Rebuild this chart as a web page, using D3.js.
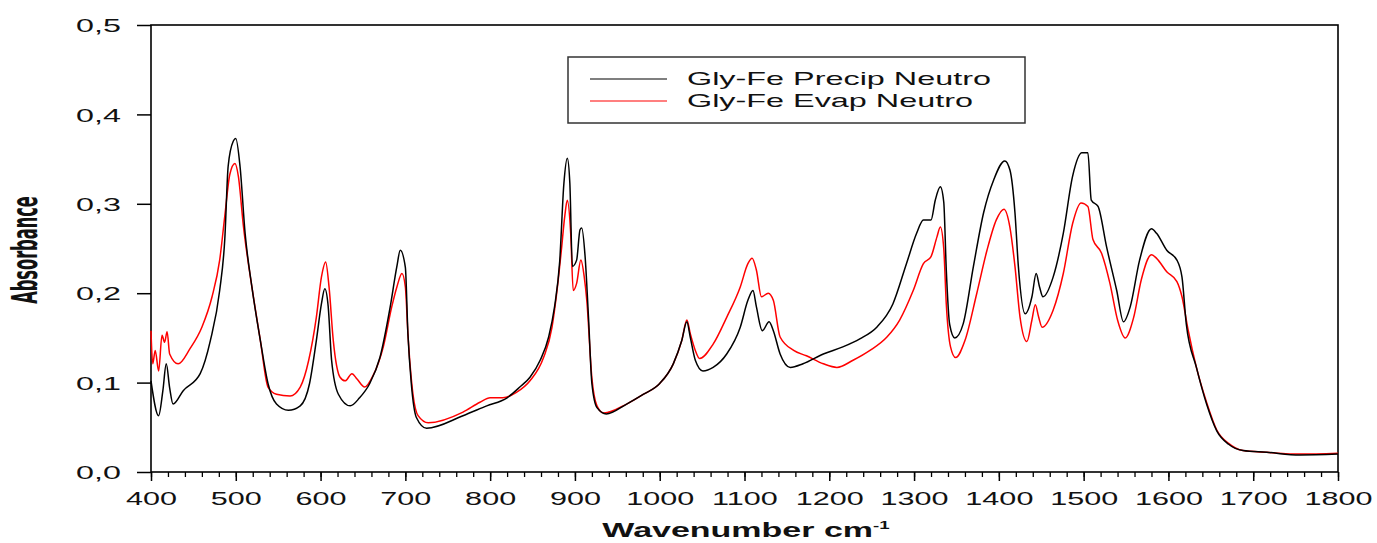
<!DOCTYPE html>
<html>
<head>
<meta charset="utf-8">
<script src="https://cdn.jsdelivr.net/npm/d3@7"></script>
<style>
  body { margin: 0; background: #fff; }
  text { font-family: "Liberation Sans", Arial, sans-serif; fill: #111; }
</style>
</head>
<body>
<svg id="chart" width="1377" height="543"></svg>
<script>
// series
const precipWavenumber = [400,409,414,418,422,426,438,458,470,481,487,491,497,500,505,511,519,529,538,548,562,576,587,595,601,605,609,613,621,635,646,658,670,682,690,694,700,703,707,713,725,768,796,820,835,847,859,869,876,882,887,891,894,897,902,906,908,912,916,920,926,937,961,981,1000,1016,1026,1032,1036,1042,1051,1063,1079,1095,1104,1110,1114,1121,1129,1134,1142,1154,1169,1193,1216,1236,1256,1275,1291,1303,1311,1320,1325,1331,1335,1338,1342,1348,1358,1370,1382,1394,1407,1413,1419,1423,1431,1439,1444,1448,1452,1464,1476,1487,1498,1505,1509,1517,1527,1539,1547,1555,1566,1580,1586,1598,1610,1616,1621,1633,1645,1657,1671,1688,1716,1755,1800];
const precipAbsorbance = [0.102,0.063,0.091,0.121,0.094,0.076,0.091,0.110,0.147,0.203,0.260,0.342,0.370,0.373,0.342,0.267,0.207,0.147,0.099,0.076,0.069,0.074,0.099,0.147,0.188,0.205,0.185,0.125,0.087,0.074,0.083,0.099,0.128,0.184,0.230,0.248,0.229,0.155,0.099,0.061,0.049,0.063,0.074,0.083,0.095,0.106,0.125,0.151,0.185,0.235,0.323,0.351,0.323,0.230,0.237,0.271,0.273,0.241,0.173,0.099,0.072,0.065,0.076,0.087,0.099,0.121,0.147,0.168,0.151,0.125,0.113,0.117,0.132,0.162,0.192,0.203,0.185,0.158,0.168,0.158,0.132,0.117,0.121,0.132,0.140,0.149,0.162,0.188,0.233,0.267,0.282,0.282,0.304,0.319,0.302,0.226,0.165,0.150,0.166,0.230,0.290,0.327,0.348,0.338,0.290,0.230,0.177,0.196,0.222,0.207,0.196,0.218,0.267,0.331,0.357,0.357,0.304,0.297,0.252,0.203,0.168,0.185,0.237,0.272,0.267,0.248,0.237,0.218,0.166,0.117,0.076,0.046,0.031,0.024,0.022,0.019,0.020];

const evapWavenumber = [400,402,405,409,413,416,419,422,432,446,460,472,481,487,493,499,503,509,519,529,538,548,564,576,586,595,601,606,610,615,623,629,637,643,652,662,674,684,690,696,700,703,709,715,727,768,788,800,815,831,847,863,873,878,884,888,891,895,898,902,907,911,914,920,926,934,961,981,1000,1016,1026,1032,1036,1042,1047,1063,1079,1095,1104,1109,1114,1120,1128,1134,1142,1158,1173,1193,1209,1228,1248,1268,1283,1299,1311,1320,1327,1331,1335,1338,1343,1349,1360,1374,1386,1397,1406,1413,1419,1425,1433,1439,1443,1447,1451,1464,1476,1487,1497,1505,1511,1521,1531,1540,1549,1559,1568,1580,1586,1598,1610,1616,1623,1633,1645,1657,1671,1688,1716,1755,1800];
const evapAbsorbance = [0.158,0.121,0.136,0.113,0.153,0.145,0.157,0.132,0.121,0.138,0.162,0.196,0.237,0.286,0.333,0.345,0.331,0.275,0.207,0.147,0.095,0.087,0.085,0.095,0.125,0.173,0.218,0.235,0.207,0.147,0.106,0.102,0.110,0.104,0.095,0.108,0.140,0.185,0.207,0.222,0.207,0.155,0.087,0.063,0.055,0.067,0.078,0.083,0.083,0.089,0.102,0.128,0.162,0.196,0.248,0.286,0.304,0.267,0.203,0.211,0.237,0.218,0.192,0.105,0.074,0.066,0.076,0.087,0.099,0.121,0.147,0.170,0.155,0.136,0.127,0.143,0.173,0.207,0.233,0.239,0.226,0.196,0.200,0.192,0.151,0.136,0.130,0.121,0.117,0.125,0.136,0.151,0.170,0.203,0.233,0.241,0.263,0.274,0.250,0.188,0.140,0.128,0.147,0.200,0.248,0.282,0.294,0.274,0.230,0.173,0.146,0.170,0.187,0.173,0.162,0.181,0.222,0.278,0.301,0.297,0.260,0.245,0.211,0.170,0.150,0.173,0.215,0.243,0.239,0.224,0.213,0.196,0.160,0.117,0.078,0.047,0.032,0.024,0.022,0.020,0.021];

const seriesNames = ["Gly-Fe Precip Neutro", "Gly-Fe Evap Neutro"];
const seriesColors = ["#000000", "#ff0000"];
const xTickValues = [400,500,600,700,800,900,1000,1100,1200,1300,1400,1500,1600,1700,1800];
const yTickValues = [0, 0.1, 0.2, 0.3, 0.4, 0.5];
const yTickLabels = ["0,0", "0,1", "0,2", "0,3", "0,4", "0,5"];

// the picture is stretched sideways, so text gets stretched too
const SX = 1.7;

const svg = d3.select("#chart");
const plotLeft = 151, plotRight = 1338, plotTop = 25, plotBottom = 472;

const x = d3.scaleLinear().domain([400, 1800]).range([plotLeft, plotRight]);
const y = d3.scaleLinear().domain([0, 0.5]).range([plotBottom, plotTop]);

// minor ticks every 20
svg.append("g")
    .attr("transform", `translate(0,${plotBottom})`)
    .call(d3.axisBottom(x).tickValues(d3.range(400, 1801, 20)).tickSize(5).tickFormat(""))
    .call(g => g.select(".domain").remove())
    .selectAll("line").attr("stroke", "#000").attr("stroke-width", 1.3);

// major x ticks
const xAxis = svg.append("g")
    .attr("transform", `translate(0,${plotBottom})`)
    .call(d3.axisBottom(x).tickValues(xTickValues).tickSize(9).tickFormat(d => d));
xAxis.select(".domain").remove();
xAxis.selectAll("line").attr("stroke", "#000").attr("stroke-width", 1.5);
xAxis.selectAll("text")
    .attr("y", 0).attr("dy", null)
    .attr("transform", `translate(0,33) scale(${SX},1)`)
    .style("font-size", "18px")
    .style("font-family", "'Liberation Sans', Arial, sans-serif")
    .attr("fill", "#111");

// y ticks
const yAxis = svg.append("g")
    .attr("transform", `translate(${plotLeft},0)`)
    .call(d3.axisLeft(y).tickValues(yTickValues).tickSize(14).tickFormat((d, i) => yTickLabels[i]));
yAxis.select(".domain").remove();
yAxis.selectAll("line").attr("stroke", "#000").attr("stroke-width", 1.5);
yAxis.selectAll("text")
    .attr("x", 0).attr("dy", "0.35em")
    .attr("transform", `translate(-30,0) scale(${SX},1)`)
    .style("font-size", "19px")
    .style("font-family", "'Liberation Sans', Arial, sans-serif")
    .attr("fill", "#111");

// frame
svg.append("rect")
    .attr("x", plotLeft).attr("y", plotTop)
    .attr("width", plotRight - plotLeft).attr("height", plotBottom - plotTop)
    .attr("fill", "none").attr("stroke", "#000").attr("stroke-width", 1.6);

// lines
const line = d3.line().x(d => x(d[0])).y(d => y(d[1])).curve(d3.curveMonotoneX);
const evapPts = evapWavenumber.map((w, i) => [w, evapAbsorbance[i]]);
const precipPts = precipWavenumber.map((w, i) => [w, precipAbsorbance[i]]);

svg.append("path").datum(evapPts)
    .attr("d", line).attr("fill", "none")
    .attr("stroke", seriesColors[1]).attr("stroke-width", 1.5);
svg.append("path").datum(precipPts)
    .attr("d", line).attr("fill", "none")
    .attr("stroke", seriesColors[0]).attr("stroke-width", 1.5);

// legend
svg.append("rect")
    .attr("x", 568).attr("y", 57).attr("width", 457).attr("height", 66)
    .attr("fill", "#fff").attr("stroke", "#333").attr("stroke-width", 1.5);

const legendRows = [79, 101];
seriesNames.forEach((name, i) => {
    svg.append("line")
        .attr("x1", 590).attr("x2", 667)
        .attr("y1", legendRows[i]).attr("y2", legendRows[i])
        .attr("stroke", seriesColors[i]).attr("stroke-width", 1.2);
    svg.append("text")
        .attr("transform", `translate(687,${legendRows[i] + 6}) scale(1.75,1)`)
        .style("font-size", "18.5px")
        .text(name);
});

// axis titles
const xTitle = svg.append("text")
    .attr("transform", `translate(746,537) scale(${SX},1)`)
    .attr("text-anchor", "middle")
    .style("font-size", "20px")
    .style("font-weight", "bold");
xTitle.append("tspan").text("Wavenumber cm");
xTitle.append("tspan").attr("dy", -8).style("font-size", "11px").text("-1");

svg.append("text")
    .attr("transform", `translate(37,250) scale(2,1) rotate(-90)`)
    .attr("text-anchor", "middle")
    .style("font-family", "'Liberation Sans Narrow', 'Arial Narrow', 'DejaVu Sans Condensed', sans-serif")
    .style("font-size", "18px")
    .style("font-weight", "bold")
    .text("Absorbance");
</script>
</body>
</html>
